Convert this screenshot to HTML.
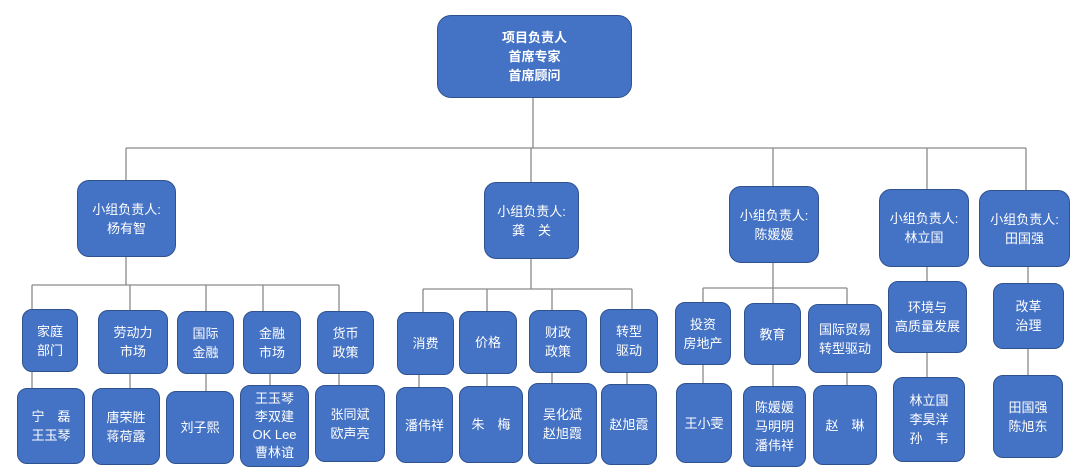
<!DOCTYPE html>
<html><head><meta charset="utf-8"><style>
body{margin:0;width:1078px;height:474px;background:#fff;position:relative;overflow:hidden;font-family:"Liberation Sans","Noto Sans CJK SC",sans-serif}
.b{position:absolute;box-sizing:border-box;background:#4472c4;border:1.5px solid #2f528f;border-radius:10px;color:#fff;display:flex;align-items:center;justify-content:center;text-align:center;font-size:13px;line-height:19px}
svg{position:absolute;left:0;top:0}
</style></head><body>
<svg width="1078" height="474"><g stroke="#8a8a8a" stroke-width="1.3" fill="none">
<path d="M533 98V148M126 148H1026M126 148V180M531 148V182M773 148V186M927 148V189M1026 148V190"/>
<path d="M126 257V285M32 285H339M32 285V309M130 285V310M206 285V311M263 285V311M339 285V311"/>
<path d="M32 372V388M130 374V388M206 374V391M270 374V385M339 374V385"/>
<path d="M531 259V289M423 289H632M423 289V312M487 289V311M552 289V310M632 289V309"/>
<path d="M419 375V387M487 374V386M552 373V383M627 373V384"/>
<path d="M773 263V288M703 288H847M703 288V302M773 288V303M847 288V304"/>
<path d="M703 365V383M773 365V386M847 373V385"/>
<path d="M927 267V281M927 353V377M1028 267V283M1028 349V375"/>
</g></svg>
<div class="b" style="left:437px;top:15px;width:195px;height:83px;font-weight:bold;border-radius:14px">项目负责人<br>首席专家<br>首席顾问</div>
<div class="b" style="left:77px;top:180px;width:99px;height:77px;border-radius:12px">小组负责人:<br>杨有智</div>
<div class="b" style="left:484px;top:182px;width:95px;height:77px;border-radius:12px">小组负责人:<br>龚　关</div>
<div class="b" style="left:729px;top:186px;width:90px;height:77px;border-radius:12px">小组负责人:<br>陈媛媛</div>
<div class="b" style="left:879px;top:189px;width:90px;height:78px;border-radius:12px">小组负责人:<br>林立国</div>
<div class="b" style="left:979px;top:190px;width:91px;height:77px;border-radius:12px">小组负责人:<br>田国强</div>

<div class="b" style="left:22px;top:309px;width:56px;height:63px">家庭<br>部门</div>
<div class="b" style="left:98px;top:310px;width:70px;height:64px">劳动力<br>市场</div>
<div class="b" style="left:177px;top:311px;width:57px;height:63px">国际<br>金融</div>
<div class="b" style="left:243px;top:311px;width:58px;height:63px">金融<br>市场</div>
<div class="b" style="left:317px;top:311px;width:57px;height:63px">货币<br>政策</div>
<div class="b" style="left:17px;top:388px;width:68px;height:76px">宁　磊<br>王玉琴</div>
<div class="b" style="left:92px;top:388px;width:68px;height:77px">唐荣胜<br>蒋荷露</div>
<div class="b" style="left:166px;top:391px;width:68px;height:73px">刘子熙</div>
<div class="b" style="left:240px;top:385px;width:69px;height:82px;line-height:18px">王玉琴<br>李双建<br>OK Lee<br>曹林谊</div>
<div class="b" style="left:315px;top:385px;width:70px;height:77px">张同斌<br>欧声亮</div>

<div class="b" style="left:397px;top:312px;width:57px;height:63px">消费</div>
<div class="b" style="left:459px;top:311px;width:58px;height:63px">价格</div>
<div class="b" style="left:529px;top:310px;width:58px;height:63px">财政<br>政策</div>
<div class="b" style="left:600px;top:309px;width:58px;height:64px">转型<br>驱动</div>
<div class="b" style="left:396px;top:387px;width:57px;height:76px">潘伟祥</div>
<div class="b" style="left:459px;top:386px;width:64px;height:77px">朱　梅</div>
<div class="b" style="left:528px;top:383px;width:69px;height:81px">吴化斌<br>赵旭霞</div>
<div class="b" style="left:601px;top:384px;width:56px;height:81px">赵旭霞</div>

<div class="b" style="left:675px;top:302px;width:56px;height:63px">投资<br>房地产</div>
<div class="b" style="left:744px;top:303px;width:57px;height:62px">教育</div>
<div class="b" style="left:808px;top:304px;width:74px;height:69px">国际贸易<br>转型驱动</div>
<div class="b" style="left:676px;top:383px;width:56px;height:80px">王小雯</div>
<div class="b" style="left:743px;top:386px;width:63px;height:81px">陈媛媛<br>马明明<br>潘伟祥</div>
<div class="b" style="left:813px;top:385px;width:64px;height:80px">赵　琳</div>

<div class="b" style="left:888px;top:281px;width:79px;height:72px">环境与<br>高质量发展</div>
<div class="b" style="left:893px;top:377px;width:72px;height:85px">林立国<br>李昊洋<br>孙　韦</div>
<div class="b" style="left:993px;top:283px;width:71px;height:66px">改革<br>治理</div>
<div class="b" style="left:993px;top:375px;width:70px;height:83px">田国强<br>陈旭东</div>
</body></html>
